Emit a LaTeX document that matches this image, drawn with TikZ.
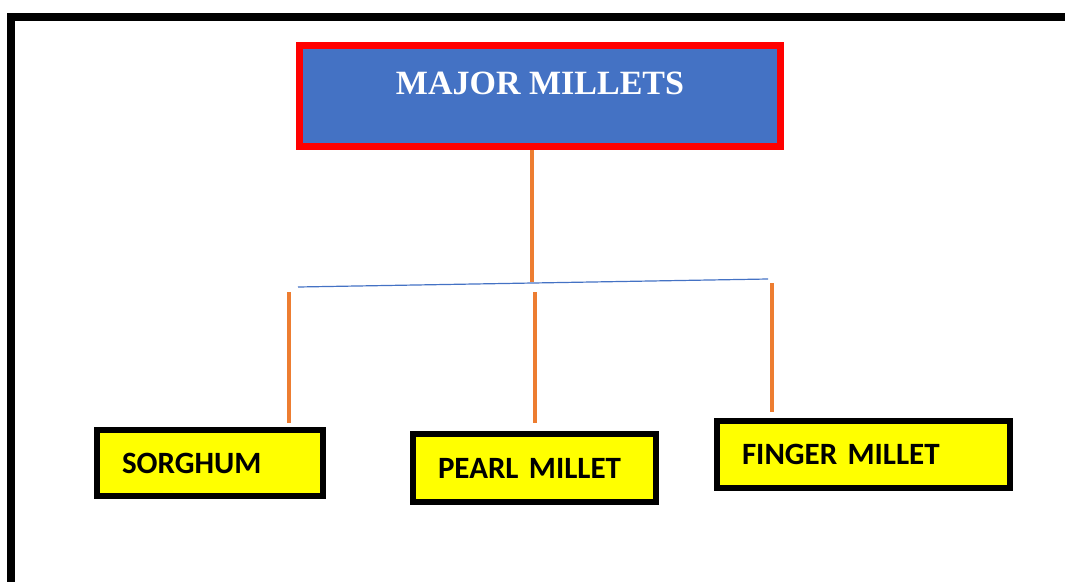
\documentclass[tikz,border=0pt]{standalone}
\usepackage{fontspec}
\setmainfont{Liberation Serif}
\newfontfamily\boxfont{Carlito}
\usetikzlibrary{positioning, calc}

\definecolor{hdrblue}{HTML}{4472C4}
\definecolor{hdrred}{HTML}{FF0000}
\definecolor{stemorange}{HTML}{ED7D31}
\definecolor{boxyellow}{HTML}{FFFF00}

\protected\def\milletfont{\boxfont\fontsize{31}{36}\selectfont\bfseries\spaceskip=0.16em\relax}

\begin{document}
\begin{tikzpicture}[x=1pt, y=-1pt,
    headbox/.style={draw=hdrred, fill=hdrblue, line width=7pt, text=white,
        font=\fontsize{34}{40}\selectfont\bfseries,
        minimum width=481pt, minimum height=101pt,
        text height=24pt, text depth=28pt},
    milletbox/.style={draw=black, fill=boxyellow, line width=6pt,
        font=\milletfont,
        align=left, inner xsep=25pt, text height=20pt, text depth=0pt},
    stem/.style={draw=stemorange, line width=3.5pt},
    bar/.style={draw=hdrblue, line width=1.2pt}]

    \useasboundingbox (0,0) rectangle (1065,581);

    % 1. Outer frame (runs off the page)
    \begin{scope}
        \clip (0,0) rectangle (1065,581);
        \draw[line width=8pt] (11,600) -- (11,17) -- (1080,17);
    \end{scope}

    % 2. Header
    \node[headbox] (major) at (540,96) {MAJOR MILLETS};

    % 3. The millet boxes
    \node[milletbox, text width=176pt, minimum height=66pt] (sorghum) at (210,463) {SORGHUM};
    \node[milletbox, text width=193pt, minimum height=68pt] (pearl) at (534.5,468) {PEARL MILLET};
    \node[milletbox, text width=243pt, minimum height=67pt] (finger) at (863.5,454.5) {FINGER MILLET};

    % 4. Branch line
    \coordinate (barL) at (298,287);
    \coordinate (barR) at (768,279);
    \coordinate (join) at (532,282);
    \draw[bar] (barL) -- (barR);

    % 5. Orange stems
    \draw[stem] (major.south -| join) -- (join);
    \coordinate (stemS) at (289,292);
    \coordinate (stemP) at (535,292);
    \coordinate (stemF) at (772,283);
    \draw[stem, shorten >=4pt] (stemS) -- (stemS |- sorghum.north);
    \draw[stem, shorten >=8pt] (stemP) -- (stemP |- pearl.north);
    \draw[stem, shorten >=6pt] (stemF) -- (stemF |- finger.north);

\end{tikzpicture}
\end{document}
